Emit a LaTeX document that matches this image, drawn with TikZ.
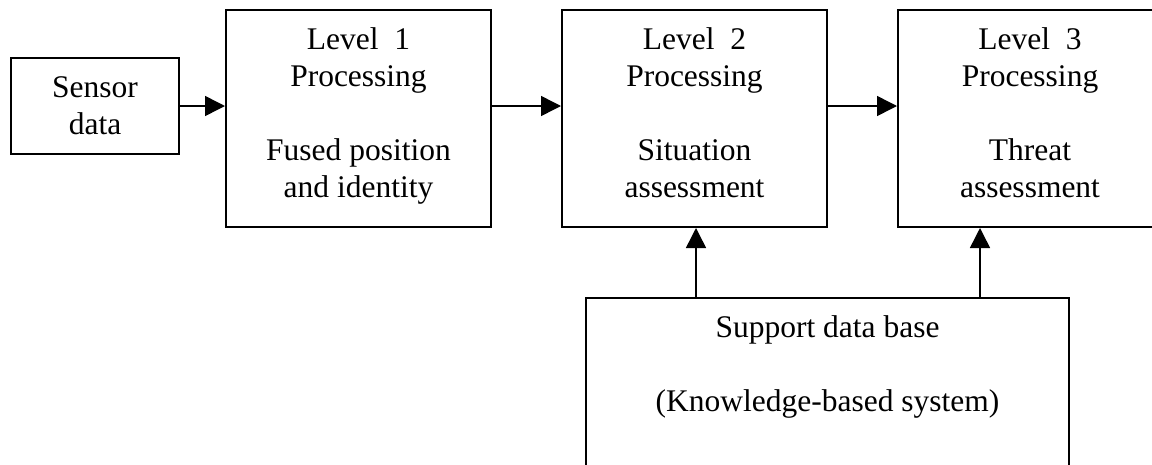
\documentclass[tikz,border=0pt]{standalone}
\usepackage{fontspec}
\setmainfont{Liberation Serif}
\usetikzlibrary{arrows.meta}
\tikzset{
  box/.style={draw, line width=2pt, inner sep=0pt},
  txt/.style={align=center, inner sep=0pt, font=\fontsize{31.5pt}{37pt}\selectfont, anchor=north},
  arr/.style={line width=1.5pt, -{Triangle[length=20pt,width=20pt]}}
}
\begin{document}
\begin{tikzpicture}[x=1pt,y=-1pt]
\useasboundingbox (0,0) rectangle (1152,464);
% boxes
\node[box, minimum width=168pt, minimum height=96pt] (s) at (95,106) {};
\node[box, minimum width=265pt, minimum height=217pt] (l1) at (358.5,118.5) {};
\node[box, minimum width=265pt, minimum height=217pt] (l2) at (694.5,118.5) {};
\node[box, minimum width=264pt, minimum height=217pt] (l3) at (1030,118.5) {};
\node[box, minimum width=483pt, minimum height=182pt] (db) at (827.5,389) {};
% texts
\node[txt] (st) at ([yshift=-14.1pt]s.north) {\strut Sensor\\data};
\node[txt] (l1t) at ([yshift=-14.1pt]l1.north) {\strut Level~~1\\Processing\\[37pt]Fused position\\and identity};
\node[txt] (l2t) at ([yshift=-14.1pt]l2.north) {\strut Level~~2\\Processing\\[37pt]Situation\\assessment};
\node[txt] (l3t) at ([yshift=-14.1pt]l3.north) {\strut Level~~3\\Processing\\[37pt]Threat\\assessment};
\node[txt] (dbt) at ([yshift=-14.1pt]db.north) {\strut Support data base\\[37pt](Knowledge-based system)};
% connectors
\draw[arr] (s.east) -- (s.east -| l1.west);
\draw[arr] (l1.east |- s.east) -- (l2.west |- s.east);
\draw[arr] (l2.east |- s.east) -- (l3.west |- s.east);
\coordinate (d2) at (696,298);
\coordinate (d3) at (980,298);
\draw[arr] (d2) -- (d2 |- l2.south);
\draw[arr] (d3) -- (d3 |- l3.south);
\end{tikzpicture}
\end{document}
